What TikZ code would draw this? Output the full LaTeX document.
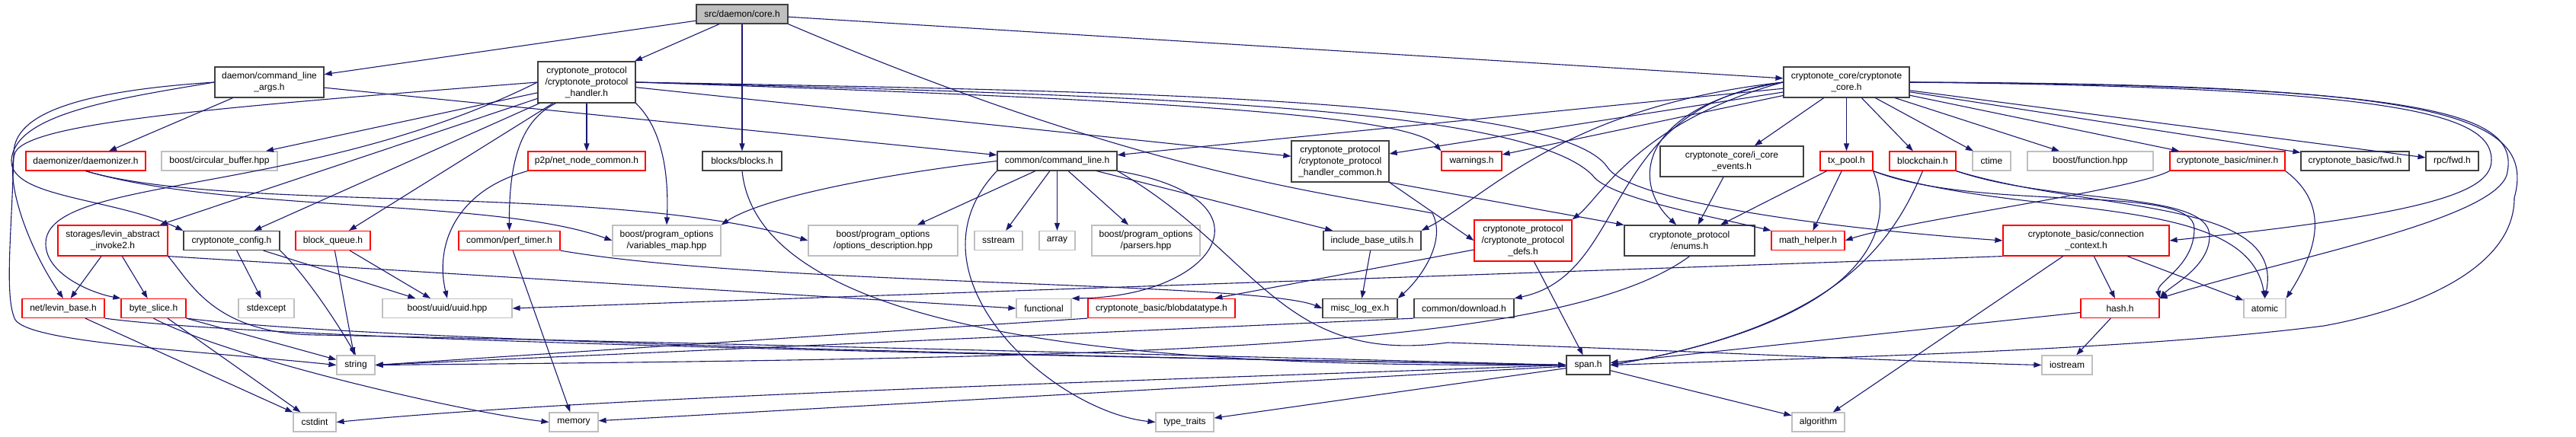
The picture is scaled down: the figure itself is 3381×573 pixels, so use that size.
\documentclass[tikz,border=0pt]{standalone}
\usepackage{fontspec}
\setmainfont{Liberation Sans}
\usetikzlibrary{arrows.meta}
\definecolor{edgeblue}{HTML}{191970}
\definecolor{boxgray}{HTML}{BFBFBF}
\definecolor{boxdark}{HTML}{404040}

\begin{document}
\begin{tikzpicture}[x=1pt,y=-1pt,
  filebox/.style={draw, rectangle, inner sep=0pt, minimum height=25, line width=1.2pt, align=center, font=\fontsize{12}{15}\selectfont},
  blackbox/.style={filebox, draw=boxdark},
  redbox/.style={filebox, draw=red},
  graybox/.style={filebox, draw=boxgray},
  two/.style={minimum height=40},
  three/.style={minimum height=54},
  dep/.style={draw=edgeblue, line width=1.1pt, -{Triangle[length=10pt,width=7pt]}}]
\useasboundingbox (0,0) rectangle (3381,573);

\node[blackbox, fill=boxgray, minimum width=120] (root) at (974,18.5) {src/daemon/core.h};

% second row
\node[blackbox, two, minimum width=143] (cla) at (353.5,108) {daemon/command\_line\\\_args.h};
\node[blackbox, three, minimum width=128] (cph) at (770,108) {cryptonote\_protocol\\/cryptonote\_protocol\\\_handler.h};
\node[blackbox, two, minimum width=165] (ccore) at (2423.5,108) {cryptonote\_core/cryptonote\\\_core.h};

% third row
\node[redbox, minimum width=157] (dmz) at (112.5,211.5) {daemonizer/daemonizer.h};
\node[graybox, minimum width=152] (cbuf) at (288,211.5) {boost/circular\_buffer.hpp};
\node[redbox, minimum width=154] (p2p) at (770,211.5) {p2p/net\_node\_common.h};
\node[blackbox, minimum width=104] (blocks) at (974,211.5) {blocks/blocks.h};
\node[blackbox, minimum width=157] (cmdl) at (1387.5,211.5) {common/command\_line.h};
\node[blackbox, three, minimum width=128] (cphc) at (1759,212) {cryptonote\_protocol\\/cryptonote\_protocol\\\_handler\_common.h};
\node[redbox, minimum width=79] (warn) at (1931.5,211.5) {warnings.h};
\node[blackbox, two, minimum width=188] (ice) at (2273,212) {cryptonote\_core/i\_core\\\_events.h};
\node[redbox, minimum width=69] (txp) at (2423.5,211.5) {tx\_pool.h};
\node[redbox, minimum width=87] (bch) at (2523.5,211.5) {blockchain.h};
\node[graybox, minimum width=50] (ctime) at (2614,211.5) {ctime};
\node[graybox, minimum width=165] (bfun) at (2743.5,211.5) {boost/function.hpp};
\node[redbox, minimum width=151] (miner) at (2923.5,211.5) {cryptonote\_basic/miner.h};
\node[blackbox, minimum width=142] (bfwd) at (3091,211.5) {cryptonote\_basic/fwd.h};
\node[blackbox, minimum width=69] (rfwd) at (3218.5,211.5) {rpc/fwd.h};

% fourth row
\node[redbox, two, minimum width=144] (lai) at (148,316) {storages/levin\_abstract\\\_invoke2.h};
\node[blackbox, minimum width=126] (ccfg) at (304,316) {cryptonote\_config.h};
\node[redbox, minimum width=98] (bq) at (437,316) {block\_queue.h};
\node[redbox, minimum width=133] (perf) at (668.5,316) {common/perf\_timer.h};
\node[graybox, two, minimum width=142] (vmap) at (875,316) {boost/program\_options\\/variables\_map.hpp};
\node[graybox, two, minimum width=196] (odesc) at (1159,316) {boost/program\_options\\/options\_description.hpp};
\node[graybox, minimum width=63] (sstream) at (1310.5,316) {sstream};
\node[graybox, minimum width=47] (array) at (1387.5,316) {array};
\node[graybox, two, minimum width=142] (pars) at (1504,316) {boost/program\_options\\/parsers.hpp};
\node[blackbox, minimum width=128] (ibu) at (1801,316) {include\_base\_utils.h};
\node[redbox, three, minimum width=128] (cpd) at (1999,316) {cryptonote\_protocol\\/cryptonote\_protocol\\\_defs.h};
\node[blackbox, two, minimum width=171] (enums) at (2217.5,316) {cryptonote\_protocol\\/enums.h};
\node[redbox, minimum width=96] (mh) at (2373,316) {math\_helper.h};
\node[redbox, two, minimum width=218] (cctx) at (2738,316) {cryptonote\_basic/connection\\\_context.h};

% fifth row
\node[redbox, minimum width=108] (lbase) at (83,405) {net/levin\_base.h};
\node[redbox, minimum width=85] (bslice) at (201.5,405) {byte\_slice.h};
\node[graybox, minimum width=73] (stdexc) at (349.5,405) {stdexcept};
\node[graybox, minimum width=170] (uuid) at (587,405) {boost/uuid/uuid.hpp};
\node[graybox, minimum width=72] (func) at (1370,405) {functional};
\node[redbox, minimum width=193] (blob) at (1524.5,405) {cryptonote\_basic/blobdatatype.h};
\node[blackbox, minimum width=98] (mlog) at (1785,405) {misc\_log\_ex.h};
\node[blackbox, minimum width=131] (dl) at (1921.5,405) {common/download.h};
\node[redbox, minimum width=103] (hash) at (2782.5,405) {hash.h};
\node[graybox, minimum width=55] (atomic) at (2972.5,405) {atomic};

% bottom rows
\node[graybox, minimum width=50] (string) at (467,479.5) {string};
\node[blackbox, minimum width=57] (span) at (2084.5,479.5) {span.h};
\node[graybox, minimum width=66] (iostream) at (2713,479.5) {iostream};
\node[graybox, minimum width=56] (cstdint) at (413,554.5) {cstdint};
\node[graybox, minimum width=64] (memory) at (753,554.5) {memory};
\node[graybox, minimum width=76] (ttraits) at (1555,554.5) {type\_traits};
\node[graybox, minimum width=69] (algo) at (2386.5,554.5) {algorithm};

% core.h
\draw[dep] (root) -- (cla);
\draw[dep] (root) -- (cph);
\draw[dep] (root) -- (blocks);
\draw[dep] (root) -- (ccore);
\draw[dep] (root.south east) .. controls (1500,230) and (1750,255) .. (1880,280) .. controls (1900,320) and (1860,370) .. (mlog.north east);

% command_line_args.h
\draw[dep] (cla) -- (dmz);
\draw[dep] (cla) -- (cmdl);
\draw[dep] (cla.west) .. controls (150,130) and (20,150) .. (15,210) .. controls (12,260) and (150,260) .. (ccfg.north west);
\draw[dep] (cla.west) .. controls (100,120) and (20,150) .. (18,200) .. controls (16,300) and (5,390) .. (20,420) .. controls (40,450) and (250,460) .. (string.west);

% daemonizer.h
\draw[dep] (dmz.south) .. controls (300,280) and (650,260) .. (vmap.west);
\draw[dep] (dmz.south) .. controls (300,280) and (800,240) .. (odesc.west);

% cryptonote_protocol_handler.h
\draw[dep] (cph) -- (cbuf);
\draw[dep] (cph) -- (p2p);
\draw[dep] ([xshift=24]cph.south west) .. controls (680,160) and (668,220) .. (perf.north);
\draw[dep] (cph.south east) .. controls (870,170) and (878,230) .. (vmap.north);
\draw[dep] (cph) -- (lai);
\draw[dep] (cph) -- (bq);
\draw[dep] (cph) -- (ccfg);
\draw[dep] (cph.west) .. controls (300,140) and (40,160) .. (20,200) .. controls (5,240) and (40,330) .. (lbase.north);
\draw[dep] (cph.west) .. controls (400,260) and (60,230) .. (60,320) .. controls (60,360) and (120,385) .. (bslice.north west);
\draw[dep] (cph) -- (cphc);
\draw[dep] (cph.east) .. controls (1500,130) and (1850,150) .. (warn.north west);
\draw[dep] (cph.east) .. controls (1500,125) and (2000,140) .. (2090,230) .. controls (2110,260) and (2250,285) .. (mh.north west);
\draw[dep] (cph.east) .. controls (1500,120) and (2050,130) .. (2110,220) .. controls (2140,265) and (2400,300) .. (cctx.west);

\draw[dep] (p2p.south west) .. controls (600,250) and (570,320) .. (uuid.north);
\draw[dep] (blocks.south) .. controls (1000,480) and (1700,480) .. (span.west);

% command_line.h
\draw[dep] (cmdl.west) .. controls (1150,230) and (1000,260) .. (vmap.north east);
\draw[dep] (cmdl) -- (odesc);
\draw[dep] (cmdl) -- (sstream);
\draw[dep] (cmdl) -- (array);
\draw[dep] (cmdl) -- (pars);
\draw[dep] (cmdl) -- (ibu);
\draw[dep] (cmdl.south east) .. controls (1680,260) and (1600,390) .. (func.north east);
\draw[dep] (cmdl.south west) .. controls (1180,360) and (1380,540) .. (ttraits.west);
\draw[dep] (cmdl.south east) .. controls (1650,330) and (1680,480) .. (1900,450) .. controls (2200,460) and (2500,475) .. (iostream.west);

% cryptonote_core.h
\draw[dep] (ccore) -- (cmdl);
\draw[dep] (ccore) -- (cphc);
\draw[dep] (ccore) -- (warn);
\draw[dep] (ccore) -- (ice);
\draw[dep] (ccore) -- (txp);
\draw[dep] (ccore) -- (bch);
\draw[dep] (ccore) -- (ctime);
\draw[dep] (ccore) -- (bfun);
\draw[dep] (ccore) -- (miner);
\draw[dep] (ccore) -- (bfwd);
\draw[dep] (ccore) -- (rfwd);
\draw[dep] (ccore.west) .. controls (2050,140) and (1950,260) .. (ibu.north east);
\draw[dep] (ccore.west) .. controls (2150,160) and (2100,260) .. (cpd.north east);
\draw[dep] (ccore.west) .. controls (2150,140) and (2140,240) .. (enums.130);
\draw[dep] (ccore.west) .. controls (2100,140) and (2140,360) .. (dl.north east);
\draw[dep] (ccore.east) .. controls (3150,115) and (3270,150) .. (3270,210) .. controls (3270,250) and (3200,280) .. (cctx.east);
\draw[dep] (ccore.east) .. controls (3200,112) and (3310,150) .. (3290,230) .. controls (3270,290) and (3000,340) .. (hash.north east);
\draw[dep] (ccore.east) .. controls (3200,110) and (3330,150) .. (3300,260) .. controls (3300,360) and (3150,410) .. (3050,428) .. controls (2800,460) and (2400,470) .. (span.east);

\draw[dep] (cphc.south east) -- (cpd.west);
\draw[dep] (cphc.south east) -- (enums.north west);
\draw[dep] (ice) -- (enums);

% tx_pool.h, blockchain.h, miner.h
\draw[dep] (txp) -- (enums);
\draw[dep] (txp) -- (mh);
\draw[dep] (txp.south east) .. controls (2500,330) and (2400,430) .. (span.east);
\draw[dep] (txp.south east) .. controls (2600,280) and (2880,240) .. (2880,300) .. controls (2880,350) and (2830,370) .. (hash.north east);
\draw[dep] (txp.south east) .. controls (2650,290) and (2950,250) .. (atomic.north);
\draw[dep] (bch.south) .. controls (2480,330) and (2400,430) .. (span.east);
\draw[dep] (bch.south east) .. controls (2700,270) and (2900,250) .. (2900,310) .. controls (2900,350) and (2850,375) .. (hash.north east);
\draw[dep] (bch.south east) .. controls (2750,280) and (3000,260) .. (atomic.north);
\draw[dep] (miner.south west) .. controls (2800,250) and (2500,290) .. (mh.east);
\draw[dep] (miner.south east) .. controls (3060,270) and (3040,330) .. (atomic.north east);

\draw[dep] (cctx) -- (hash);
\draw[dep] (cctx) -- (atomic);
\draw[dep] (cctx) -- (algo);
\draw[dep] (cctx.south west) -- (uuid.east);
\draw[dep] (hash) -- (span);
\draw[dep] (hash) -- (iostream);

% span.h
\draw[dep] (span.west) .. controls (1500,500) and (800,520) .. (cstdint.east);
\draw[dep] (span) -- (memory);
\draw[dep] (span) -- (ttraits);
\draw[dep] (span) -- (algo);

% left part
\draw[dep] (lai) -- (lbase);
\draw[dep] (lai) -- (bslice);
\draw[dep] (lai.south east) -- (func.west);
\draw[dep] (lai.south east) .. controls (250,370) and (280,440) .. (420,440) .. controls (900,450) and (1700,470) .. (span.west);
\draw[dep] (lbase) -- (cstdint);
\draw[dep] (lbase.south east) .. controls (300,440) and (900,460) .. (span.west);
\draw[dep] (bslice) -- (cstdint);
\draw[dep] (bslice.south east) -- (string);
\draw[dep] (bslice.south) .. controls (300,470) and (600,540) .. (memory.west);
\draw[dep] (bslice.south east) .. controls (500,450) and (1500,470) .. (span.west);
\draw[dep] (ccfg) -- (stdexc);
\draw[dep] (ccfg.south east) .. controls (400,360) and (440,420) .. (string.north);
\draw[dep] (ccfg) -- (uuid);
\draw[dep] (bq) -- (string);
\draw[dep] (bq) -- (uuid);
\draw[dep] (perf) -- (memory);
\draw[dep] (perf.south east) .. controls (1000,375) and (1650,370) .. (mlog.west);
\draw[dep] (ibu) -- (mlog);
\draw[dep] (cpd) -- (blob);
\draw[dep] (cpd) -- (span);
\draw[dep] (enums.south) .. controls (2050,460) and (1500,470) .. (string.east);
\draw[dep] (blob.south west) -- (string.east);
\draw[dep] (dl.south west) -- (string.east);
\end{tikzpicture}
\end{document}
